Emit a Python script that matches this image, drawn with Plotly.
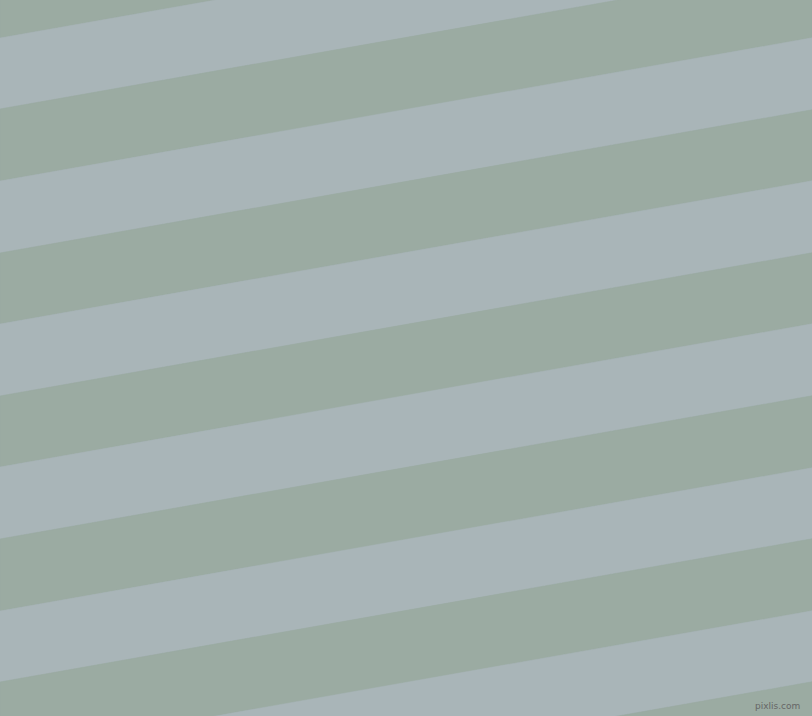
import math
import plotly.graph_objects as go

# stripe edges where they meet the left border (px from top)
left_edges = [-34, 38, 109, 181, 253, 324, 396, 467, 539, 611, 682, 754, 825, 897]
stripe_colors = ["#9baba2", "#a9b5b8"]
tilt_deg = 10
width, height = 812, 716
watermark = "pixlis.com"


def stripe_polygon(top, bottom, slope):
    drop = width * slope
    xs = [0, width, width, 0, 0]
    ys = [top, top - drop, bottom - drop, bottom, top]
    return xs, ys


def main():
    slope = math.tan(math.radians(tilt_deg))
    fig = go.Figure()
    for i in range(len(left_edges) - 1):
        xs, ys = stripe_polygon(left_edges[i], left_edges[i + 1], slope)
        color = stripe_colors[i % 2]
        fig.add_trace(go.Scatter(
            x=xs, y=ys, mode="lines", fill="toself",
            fillcolor=color, line=dict(color=color, width=0.5),
            hoverinfo="skip", showlegend=False,
        ))

    fig.add_annotation(
        text=watermark, x=802, y=713, xref="x", yref="y",
        xanchor="right", yanchor="bottom", showarrow=False,
        font=dict(family="DejaVu Sans", size=9, color="#666666"),
    )

    fig.update_layout(
        width=width, height=height,
        margin=dict(l=0, r=0, t=0, b=0),
        paper_bgcolor=stripe_colors[0], plot_bgcolor=stripe_colors[0],
        xaxis=dict(range=[0, width], visible=False, fixedrange=True),
        yaxis=dict(range=[height, 0], visible=False, fixedrange=True),
    )
    fig.write_html(
        "out.html",
        config={"displayModeBar": False},
        post_script="document.body.style.margin='0';document.body.style.overflow='hidden';",
    )


if __name__ == "__main__":
    main()
